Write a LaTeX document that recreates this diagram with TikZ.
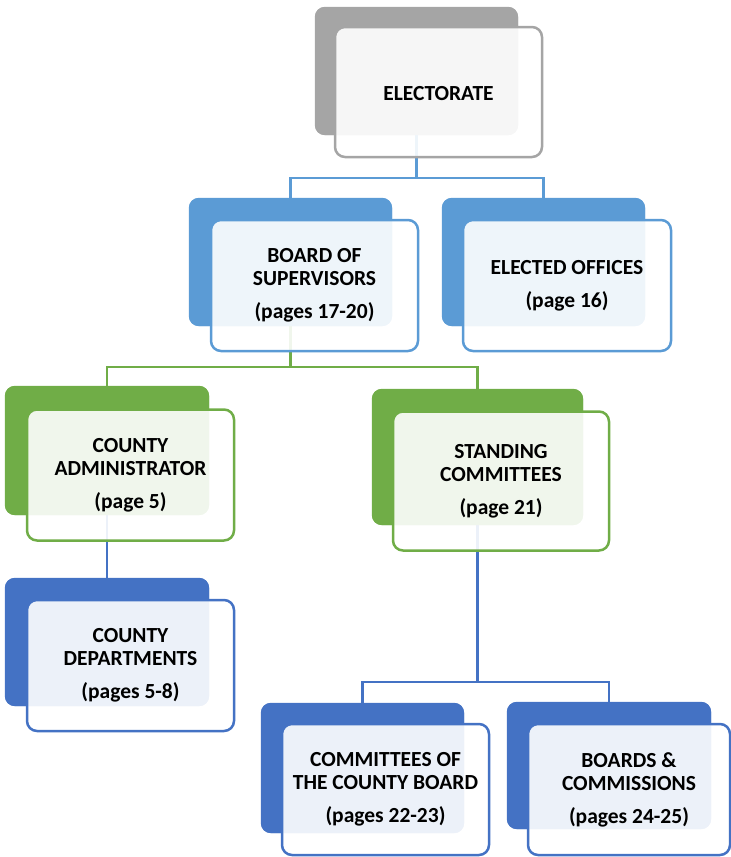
\documentclass[tikz,border=0pt]{standalone}
\usepackage{fontspec}
\setmainfont{Carlito}
\definecolor{cgray}{HTML}{A5A5A5}
\definecolor{cblue}{HTML}{5B9BD5}
\definecolor{cgreen}{HTML}{70AD47}
\definecolor{cdblue}{HTML}{4472C4}
\tikzset{
  backbox/.style={rectangle, rounded corners=10pt, fill=#1, draw=none, inner sep=0pt},
  frontbox/.style={rectangle, rounded corners=10pt, draw=#1, line width=2.5pt, fill=white,
    fill opacity=0.9, text opacity=1, align=center, inner sep=0pt,
    font=\bfseries\fontsize{21.5}{23}\selectfont},
  conn/.style={draw=#1, line width=2.5pt}
}
\begin{document}
\begin{tikzpicture}[x=1pt,y=-1pt]
\useasboundingbox (0,0) rectangle (731,857);
\coordinate (j1) at (0,178);
\coordinate (j2) at (0,367);
\coordinate (j3) at (0,682);
% back boxes (named anchors for connectors)
\node[backbox=cgray, minimum width=203pt, minimum height=128pt] (eB) at (416.5,71) {};
\node[backbox=cblue, minimum width=203pt, minimum height=128pt] (bB) at (290.5,262) {};
\node[backbox=cblue, minimum width=203pt, minimum height=128pt] (oB) at (543.5,262) {};
\node[backbox=cgreen, minimum width=204pt, minimum height=129pt] (aB) at (107,450.5) {};
\node[backbox=cgreen, minimum width=211pt, minimum height=136pt] (sB) at (477.5,457) {};
\node[backbox=cdblue, minimum width=204pt, minimum height=128pt] (dB) at (107,642) {};
\node[backbox=cdblue, minimum width=203pt, minimum height=130pt] (cB) at (362.5,768) {};
\node[backbox=cdblue, minimum width=204pt, minimum height=127pt] (mB) at (609,765.5) {};
% connectors
\draw[conn=cblue] (eB.south) -- (eB.south |- j1) -| (bB.north);
\draw[conn=cblue] (eB.south |- j1) -| (oB.north);
\draw[conn=cgreen] (bB.south) -- (bB.south |- j2) -| (aB.north);
\draw[conn=cgreen] (bB.south |- j2) -| (sB.north);
\draw[conn=cdblue] (aB.south) -- (dB.north);
\draw[conn=cdblue] (sB.south) -- (sB.south |- j3) -| (cB.north);
\draw[conn=cdblue] (sB.south |- j3) -| (mB.north);
% redraw back boxes over connector ends
\fill[cgray, rounded corners=10pt] (eB.south west) rectangle (eB.north east);
\fill[cblue, rounded corners=10pt] (bB.south west) rectangle (bB.north east);
\fill[cblue, rounded corners=10pt] (oB.south west) rectangle (oB.north east);
\fill[cgreen, rounded corners=10pt] (aB.south west) rectangle (aB.north east);
\fill[cgreen, rounded corners=10pt] (sB.south west) rectangle (sB.north east);
\fill[cdblue, rounded corners=10pt] (dB.south west) rectangle (dB.north east);
\fill[cdblue, rounded corners=10pt] (cB.south west) rectangle (cB.north east);
\fill[cdblue, rounded corners=10pt] (mB.south west) rectangle (mB.north east);
% front boxes
\node[frontbox=cgray, minimum width=207pt, minimum height=130pt] (e) at (438.5,92) {};
\node at (438.5,93.5) [font=\bfseries\fontsize{21.5}{23}\selectfont, inner sep=0pt] (et) {ELECTORATE};
\node[frontbox=cblue, minimum width=207pt, minimum height=131pt] (b) at (314.5,285.5) {BOARD OF\\SUPERVISORS\\[10pt](pages 17-20)};
\node[frontbox=cblue, minimum width=208pt, minimum height=131pt] (o) at (567,285.5) {ELECTED OFFICES\\[10pt](page 16)};
\node[frontbox=cgreen, minimum width=207pt, minimum height=131pt] (a) at (130.5,475) {COUNTY\\ADMINISTRATOR\\[10pt](page 5)};
\node[frontbox=cgreen, minimum width=216pt, minimum height=139pt] (s) at (501,481) {STANDING\\COMMITTEES\\[10pt](page 21)};
\node[frontbox=cdblue, minimum width=207pt, minimum height=131pt] (d) at (130.5,665.5) {COUNTY\\DEPARTMENTS\\[10pt](pages 5-8)};
\node[frontbox=cdblue, minimum width=207pt, minimum height=131pt] (c) at (385.5,789.5) {COMMITTEES OF\\THE COUNTY BOARD\\[10pt](pages 22-23)};
\node[frontbox=cdblue, minimum width=202pt, minimum height=131pt] (m) at (629,789.5) {BOARDS \&\\COMMISSIONS\\[10pt](pages 24-25)};
\end{tikzpicture}
\end{document}
